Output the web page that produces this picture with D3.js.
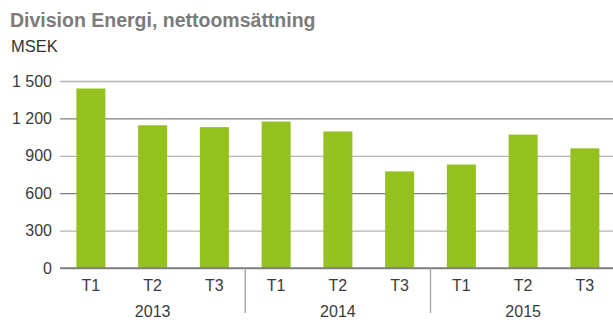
<!DOCTYPE html>
<html>
<head>
<meta charset="utf-8">
<script src="https://cdn.jsdelivr.net/npm/d3@7"></script>
<style>
  html, body { margin: 0; padding: 0; background: #fff; }
  svg { display: block; font-family: "Liberation Sans", Arial, sans-serif; }
</style>
</head>
<body>
<svg id="chart" width="613" height="320"></svg>
<script>
// Net sales per period, MSEK
const years = ["2013", "2014", "2015"];
const periods = ["T1", "T2", "T3"];
const sales2013 = [1440, 1145, 1130];
const sales2014 = [1175, 1095, 775];
const sales2015 = [830, 1070, 960];
const yTicks = [0, 300, 600, 900, 1200, 1500];

const seriesByYear = [sales2013, sales2014, sales2015];
const rows = [];
years.forEach((yr, i) => periods.forEach((p, j) => {
  rows.push({ key: yr + "-" + p, year: yr, period: p, value: seriesByYear[i][j] });
}));

const svg = d3.select("#chart");
const plotLeft = 60, plotRight = 615.75, plotTop = 81, plotBottom = 268;

const x = d3.scaleBand()
  .domain(rows.map(d => d.key))
  .range([plotLeft, plotRight])
  .paddingInner(0.53)
  .paddingOuter(0.265);

const y = d3.scaleLinear().domain([0, 1500]).range([plotBottom, plotTop]);

// Title and unit
svg.append("text")
  .attr("x", 10).attr("y", 27)
  .attr("font-size", 19.5).attr("font-weight", "bold")
  .attr("fill", "#7b7b7b")
  .text("Division Energi, nettoomsättning");
svg.append("text")
  .attr("x", 11).attr("y", 52)
  .attr("font-size", 16.5)
  .attr("fill", "#333")
  .text("MSEK");

// Horizontal gridlines
const fmt = v => d3.format(",")(v).replace(/,/g, " ");
const yAxis = d3.axisLeft(y).tickValues(yTicks).tickSize(0).tickPadding(8).tickFormat(fmt);
const gy = svg.append("g").attr("transform", `translate(${plotLeft},0)`).call(yAxis);
gy.select(".domain").remove();
gy.selectAll(".tick text")
  .attr("font-size", 16).attr("fill", "#3a3a3a")
  .attr("font-family", "Liberation Sans, Arial, sans-serif");
gy.selectAll(".tick").append("line")
  .attr("x1", 0).attr("x2", 613 - plotLeft)
  .attr("stroke", (d) => (d / 300) % 2 === 0 ? "#808080" : "#b4b4b4")
  .attr("stroke-width", 1.3);

// Bars
svg.append("g").selectAll("rect")
  .data(rows)
  .join("rect")
  .attr("x", d => x(d.key))
  .attr("width", x.bandwidth())
  .attr("y", d => y(d.value))
  .attr("height", d => y(0) - y(d.value))
  .attr("fill", "#95c11f");

// Baseline redrawn above bars
svg.append("line")
  .attr("x1", plotLeft).attr("x2", 613)
  .attr("y1", y(0)).attr("y2", y(0))
  .attr("stroke", "#808080").attr("stroke-width", 1.3);

// Period labels
const xAxis = d3.axisBottom(x).tickSize(0).tickPadding(12).tickFormat(k => k.split("-")[1]);
const gx = svg.append("g").attr("transform", `translate(0,${plotBottom})`).call(xAxis);
gx.select(".domain").remove();
gx.selectAll(".tick text")
  .attr("font-size", 16).attr("fill", "#3a3a3a")
  .attr("font-family", "Liberation Sans, Arial, sans-serif");

// Year labels and separators between year groups
years.forEach((yr, i) => {
  const mid = x(yr + "-T2") + x.bandwidth() / 2;
  svg.append("text")
    .attr("x", mid).attr("y", 317)
    .attr("text-anchor", "middle")
    .attr("font-size", 16).attr("fill", "#3a3a3a")
    .text(yr);
  if (i > 0) {
    const sep = x(yr + "-T1") - (x.step() - x.bandwidth()) / 2;
    svg.append("line")
      .attr("x1", sep).attr("x2", sep)
      .attr("y1", plotBottom).attr("y2", 313)
      .attr("stroke", "#a0a0a0").attr("stroke-width", 1.3);
  }
});
</script>
</body>
</html>
